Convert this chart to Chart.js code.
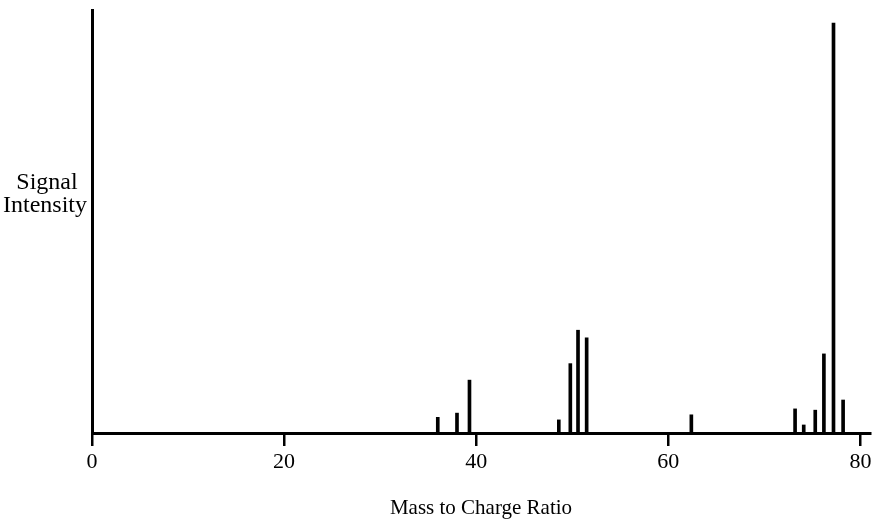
<!DOCTYPE html>
<html>
<head>
<meta charset="utf-8">
<title>Mass Spectrum</title>
<script src="https://cdn.jsdelivr.net/npm/chart.js@4.4.1/dist/chart.umd.min.js"></script>
<style>
  html, body { margin: 0; padding: 0; background: #fff; }
  #chart-box { width: 875px; height: 522px; position: relative; }
</style>
</head>
<body>
<div id="chart-box"><canvas id="ms-chart"></canvas></div>
<script>
// peak positions (m/z) and relative intensities
var massValues = [36.0, 38.0, 39.3, 48.6, 49.8, 50.6, 51.5, 62.4, 73.2, 74.1, 75.3, 76.2, 77.2, 78.2];
var intensityValues = [3.7, 4.7, 12.5, 3.1, 16.4, 24.3, 22.5, 4.3, 5.7, 1.9, 5.4, 18.7, 96.9, 7.8];
var xTickValues = [0, 20, 40, 60, 80];
var yLabelLines = ["Signal", "Intensity"];
var xTitle = "Mass to Charge Ratio";

var serif = "'Liberation Serif', 'Times New Roman', serif";

// y label is written horizontally, left of the axis
var sideLabel = {
  id: "sideLabel",
  afterDraw: function (chart) {
    var ctx = chart.ctx;
    ctx.save();
    ctx.fillStyle = "#000";
    ctx.font = "24px " + serif;
    ctx.textAlign = "center";
    ctx.textBaseline = "alphabetic";
    ctx.fillText(yLabelLines[0], 47, 189);
    ctx.fillText(yLabelLines[1], 45, 212);
    ctx.restore();
  },
};

var points = massValues.map(function (m, i) {
  return { x: m, y: intensityValues[i] };
});

new Chart(document.getElementById("ms-chart").getContext("2d"), {
  type: "bar",
  data: {
    datasets: [
      {
        data: points,
        backgroundColor: "#000",
        borderWidth: 0,
        barThickness: 3,
      },
    ],
  },
  options: {
    responsive: true,
    maintainAspectRatio: false,
    animation: false,
    layout: { padding: { top: 10, right: 5, left: 0, bottom: 0 } },
    plugins: { legend: { display: false }, tooltip: { enabled: false } },
    scales: {
      x: {
        type: "linear",
        min: 0,
        max: 81,
        offset: false,
        afterFit: function (s) { s.height = 89; },
        afterBuildTicks: function (s) {
          s.ticks = xTickValues.map(function (v) { return { value: v }; });
        },
        border: { display: true, color: "#000", width: 3 },
        grid: {
          display: true,
          drawOnChartArea: false,
          drawTicks: true,
          tickLength: 13,
          color: "#000",
          lineWidth: 2.5,
          offset: false,
        },
        ticks: {
          color: "#000",
          font: { family: serif, size: 22 },
          padding: 3,
          maxRotation: 0,
        },
        title: {
          display: true,
          text: xTitle,
          color: "#000",
          font: { family: serif, size: 21 },
          padding: { top: 0, bottom: 1 },
        },
      },
      y: {
        min: 0,
        max: 100,
        afterFit: function (s) { s.width = 92; },
        border: { display: true, color: "#000", width: 3 },
        grid: { display: false },
        ticks: { display: false },
      },
    },
  },
  plugins: [sideLabel],
});
</script>
</body>
</html>
